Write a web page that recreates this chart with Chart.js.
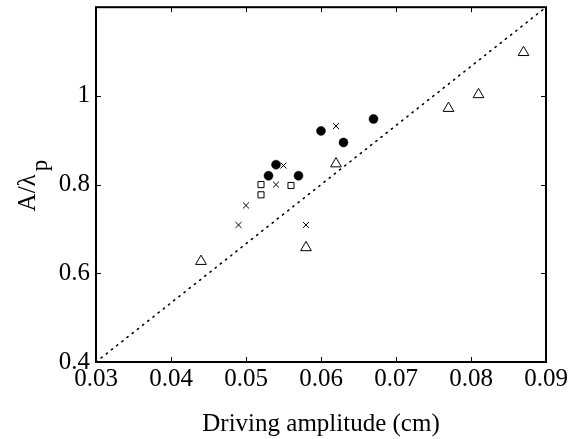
<!DOCTYPE html>
<html>
<head>
<meta charset="utf-8">
<script src="https://cdn.jsdelivr.net/npm/chart.js@4"></script>
<style>
html,body{margin:0;padding:0;background:#fff;}
canvas{display:block;}
</style>
</head>
<body>
<canvas id="c" width="580" height="439"></canvas>
<script>
// ---- data ----
const circleX = [0.053, 0.054, 0.057, 0.060, 0.063, 0.067];
const circleY = [0.820, 0.845, 0.820, 0.921, 0.895, 0.948];
const crossX = [0.049, 0.050, 0.054, 0.055, 0.058, 0.062];
const crossY = [0.709, 0.753, 0.800, 0.843, 0.709, 0.932];
const squareX = [0.052, 0.052, 0.056];
const squareY = [0.800, 0.777, 0.798];
const triangleX = [0.044, 0.058, 0.062, 0.077, 0.081, 0.087];
const triangleY = [0.627, 0.658, 0.847, 0.972, 1.003, 1.098];
const lineX = [0.03, 0.09];
const lineY = [0.4, 1.2];
const xTicks = [0.03, 0.04, 0.05, 0.06, 0.07, 0.08, 0.09];
const xTickLabels = ['0.03', '0.04', '0.05', '0.06', '0.07', '0.08', '0.09'];
const yTicks = [0.4, 0.6, 0.8, 1.0];
const yTickLabels = ['0.4', '0.6', '0.8', '1'];
const xTitle = 'Driving amplitude (cm)';
const yTitleMain = 'A/λ';
const yTitleSub = 'p';

const pts = (xs, ys) => xs.map((x, i) => ({x: x, y: ys[i]}));
const FONT = '"Liberation Serif", "Times New Roman", serif';

const framePlugin = {
  id: 'frame',
  afterDraw(chart) {
    const ctx = chart.ctx;
    const a = chart.chartArea;
    const xs = chart.scales.x, ys = chart.scales.y;
    ctx.save();
    ctx.strokeStyle = '#000';
    ctx.lineWidth = 1;
    const tl = 5;
    ctx.beginPath();
    xTicks.forEach(v => {
      const p = Math.round(xs.getPixelForValue(v)) + 0.5;
      ctx.moveTo(p, a.bottom); ctx.lineTo(p, a.bottom - tl);
      ctx.moveTo(p, a.top); ctx.lineTo(p, a.top + tl);
    });
    yTicks.forEach(v => {
      const p = Math.round(ys.getPixelForValue(v)) + 0.5;
      ctx.moveTo(a.left, p); ctx.lineTo(a.left + tl, p);
      ctx.moveTo(a.right, p); ctx.lineTo(a.right - tl, p);
    });
    ctx.stroke();
    ctx.lineWidth = 2;
    ctx.strokeRect(a.left, a.top, a.right - a.left, a.bottom - a.top);

    // x title
    ctx.fillStyle = '#000';
    ctx.font = '25px ' + FONT;
    ctx.textAlign = 'center';
    ctx.textBaseline = 'alphabetic';
    ctx.fillText(xTitle, (a.left + a.right) / 2, 431);

    // y title with subscript
    ctx.font = '25px ' + FONT;
    const wMain = ctx.measureText(yTitleMain).width;
    ctx.font = '23px ' + FONT;
    const wSub = ctx.measureText(yTitleSub).width;
    const gap = 3;
    const total = wMain + wSub + gap;
    const cy = (a.top + a.bottom) / 2 + 1;
    ctx.translate(35, cy);
    ctx.rotate(-Math.PI / 2);
    ctx.textAlign = 'left';
    ctx.font = '25px ' + FONT;
    ctx.fillText(yTitleMain, -total / 2, 0);
    ctx.font = '23px ' + FONT;
    ctx.fillText(yTitleSub, -total / 2 + wMain + gap, 12);
    ctx.restore();
  }
};

new Chart(document.getElementById('c'), {
  type: 'scatter',
  data: {
    datasets: [
      {
        type: 'line', data: pts(lineX, lineY), borderColor: '#000', borderWidth: 1.6,
        borderDash: [1.2, 5.4], borderCapStyle: 'round', pointRadius: 0, fill: false, tension: 0
      },
      {
        data: pts(circleX, circleY), pointStyle: 'circle', pointRadius: 4.5,
        backgroundColor: '#000', borderColor: '#000', borderWidth: 0.5
      },
      {
        data: pts(crossX, crossY), pointStyle: 'crossRot', pointRadius: 4.2,
        borderColor: '#000', borderWidth: 1, backgroundColor: 'transparent'
      },
      {
        data: pts(squareX, squareY), pointStyle: 'rect', pointRadius: 4.3,
        borderColor: '#000', borderWidth: 1, backgroundColor: 'rgba(255,255,255,0)'
      },
      {
        data: pts(triangleX, triangleY), pointStyle: 'triangle', pointRadius: 6.2,
        borderColor: '#000', borderWidth: 1, backgroundColor: 'rgba(255,255,255,0)'
      }
    ]
  },
  options: {
    responsive: false,
    animation: false,
    devicePixelRatio: 1,
    layout: {padding: {top: 7, right: 34, left: 0, bottom: 0}},
    plugins: {legend: {display: false}, tooltip: {enabled: false}},
    elements: {point: {hoverRadius: 0}},
    scales: {
      x: {
        type: 'linear', min: 0.03, max: 0.09,
        afterBuildTicks: s => { s.ticks = xTicks.map(v => ({value: v})); },
        afterFit: s => { s.height = 77; s.paddingLeft = 0; s.paddingRight = 0; },
        grid: {display: false, drawTicks: false},
        border: {display: false},
        ticks: {
          font: {family: FONT, size: 25}, color: '#000', padding: 2, maxRotation: 0, autoSkip: false,
          callback: (v) => { const i = xTicks.findIndex(t => Math.abs(t - v) < 1e-9); return i >= 0 ? xTickLabels[i] : ''; }
        }
      },
      y: {
        type: 'linear', min: 0.4, max: 1.2,
        afterBuildTicks: s => { s.ticks = yTicks.map(v => ({value: v})); },
        afterFit: s => { s.width = 96; s.paddingTop = 0; s.paddingBottom = 0; },
        grid: {display: false, drawTicks: false},
        border: {display: false},
        ticks: {
          font: {family: FONT, size: 25}, color: '#000', padding: 6, autoSkip: false,
          callback: (v) => { const i = yTicks.findIndex(t => Math.abs(t - v) < 1e-9); return i >= 0 ? yTickLabels[i] : ''; }
        }
      }
    }
  },
  plugins: [framePlugin]
});
</script>
</body>
</html>
